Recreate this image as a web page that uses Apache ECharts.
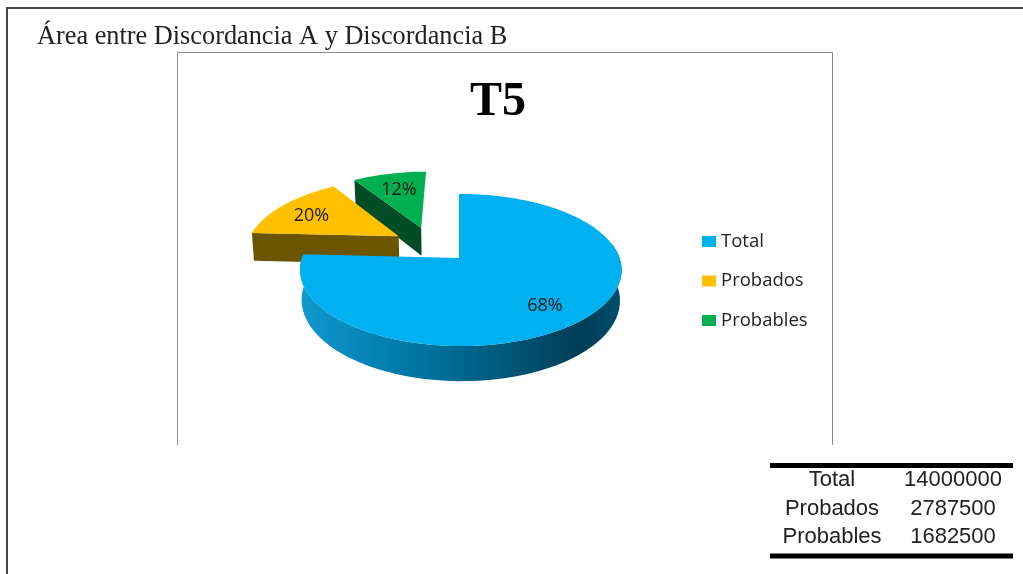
<!DOCTYPE html>
<html><head><meta charset="utf-8">
<style>html,body{margin:0;padding:0;background:#fff}#c{width:1023px;height:574px}</style>
<script src="https://cdn.jsdelivr.net/npm/echarts@6/dist/echarts.min.js"></script>
</head><body><div id="c"></div>
<script>
var categories = ['Total', 'Probados', 'Probables'];
var values = [14000000, 2787500, 1682500];
var pctLabels = ['68%', '20%', '12%'];
var topColors = ['#00B0F0', '#FFC000', '#00B050'];
var sideColors = ['#00607f', '#6b5500', '#004d26'];
var explode = [[0, 0], [-0.40, 0.31], [-0.255, 0.432]];
var labelNudge = [[-3, 4], [0, 3], [2, 3]];
var drawOrder = [2, 1, 0];

var total = values.reduce(function (a, b) { return a + b; }, 0);
var starts = [], acc = 0;
values.forEach(function (v) { starts.push(acc / total * 360); acc += v; });

var view = { cx: 459, cy: 258, f: 1005, d: 6.33, yaw: 0.07, tilt: 0.467, depth: 0.186, shrink: 0.99 };
function project(X, Y, low) {
  var s = view.f / (view.d + Y - view.yaw * X);
  var sx = X * s, sy = -Y * s * view.tilt;
  if (low) { sx *= view.shrink; sy += view.depth * s; }
  return [view.cx + sx, view.cy + sy];
}
function polar(deg, r, off) {
  var a = deg * Math.PI / 180;
  return [off[0] + r * Math.sin(a), off[1] + r * Math.cos(a)];
}
function sector(i) {
  var a0 = starts[i], a1 = a0 + values[i] / total * 360, off = explode[i];
  var pts = [project(off[0], off[1])];
  for (var a = a0; a < a1; a += 2) { var p = polar(a, 1, off); pts.push(project(p[0], p[1])); }
  var e = polar(a1, 1, off); pts.push(project(e[0], e[1]));
  return pts;
}
function outerWall(i, from, to) {
  var off = explode[i], up = [], down = [];
  for (var a = from; a <= to; a += 2) {
    var p = polar(a, 1, off);
    up.push(project(p[0], p[1]));
    down.unshift(project(p[0], p[1], true));
  }
  return up.concat(down);
}
function radialWall(i, deg) {
  var off = explode[i], p = polar(deg, 1, off);
  return [project(off[0], off[1]), project(p[0], p[1]), project(p[0], p[1], true), project(off[0], off[1], true)];
}
var blueWall = { type: 'linear', x: 0, y: 0, x2: 1, y2: 0, colorStops: [
  { offset: 0, color: '#1199cf' }, { offset: 0.3, color: '#007cab' },
  { offset: 0.6, color: '#005c7f' }, { offset: 0.88, color: '#003c56' }, { offset: 1, color: '#00506f' }] };

function renderSlice(i) {
  return function () {
    var kids = [];
    var a0 = starts[i], a1 = a0 + values[i] / total * 360;
    if (i === 0) {
      kids.push({ type: 'polygon', shape: { points: outerWall(0, 78, a1) }, style: { fill: blueWall } });
    } else {
      kids.push({ type: 'polygon', shape: { points: radialWall(i, a0) }, style: { fill: sideColors[i] } });
    }
    kids.push({ type: 'polygon', shape: { points: sector(i) }, style: { fill: topColors[i] } });
    var m = polar((a0 + a1) / 2, 0.74, explode[i]);
    var lp = project(m[0], m[1]);
    kids.push({ type: 'text', z2: 10, x: lp[0] + labelNudge[i][0], y: lp[1] + labelNudge[i][1], style: {
      text: pctLabels[i], fill: '#1a1a1a', font: '18px "Open Sans"', align: 'center', verticalAlign: 'middle' } });
    return { type: 'group', children: kids };
  };
}
var tableFont = '22px "Liberation Sans"';
var graphics = [
  { type: 'polyline', shape: { points: [[7, 574], [7, 8], [1023, 8]] }, style: { stroke: '#444', lineWidth: 2, fill: null } },
  { type: 'polyline', shape: { points: [[177.5, 445], [177.5, 52.5], [832.5, 52.5], [832.5, 445]] }, style: { stroke: '#8c8c8c', lineWidth: 1, fill: null } },
  { type: 'text', x: 37, y: 37, style: { text: 'Área entre Discordancia A y Discordancia B', fill: '#222', font: '26.3px "Liberation Serif"', verticalAlign: 'middle' } },
  { type: 'line', shape: { x1: 770, y1: 465.5, x2: 1013, y2: 465.5 }, style: { stroke: '#000', lineWidth: 5 } },
  { type: 'line', shape: { x1: 770, y1: 556, x2: 1013, y2: 556 }, style: { stroke: '#000', lineWidth: 5 } }
];
var rowY = [480, 509, 537];
categories.forEach(function (c, i) {
  graphics.push({ type: 'text', x: 832, y: rowY[i], style: { text: c, fill: '#222', font: tableFont, align: 'center', verticalAlign: 'middle' } });
  graphics.push({ type: 'text', x: 953, y: rowY[i], style: { text: String(values[i]), fill: '#222', font: tableFont, align: 'center', verticalAlign: 'middle' } });
});

var chart = echarts.init(document.getElementById('c'), null, { renderer: 'canvas' });
chart.setOption({
  animation: false,
  backgroundColor: '#fff',
  title: { text: 'T5', left: 493, top: 74, textAlign: 'center',
    textStyle: { fontFamily: 'Liberation Serif', fontWeight: 'bold', fontSize: 48, color: '#000' } },
  legend: { orient: 'vertical', left: 702, top: 232, padding: 0, data: categories, icon: 'rect', itemWidth: 14, itemHeight: 11, itemGap: 20.5,
    textStyle: { fontFamily: 'Open Sans', fontSize: 18.5, color: '#222' } },
  graphic: graphics,
  series: drawOrder.map(function (i) {
    return { type: 'custom', name: categories[i], coordinateSystem: 'none', silent: true,
      itemStyle: { color: topColors[i] }, data: [values[i]], renderItem: renderSlice(i) };
  })
});
</script></body></html>
